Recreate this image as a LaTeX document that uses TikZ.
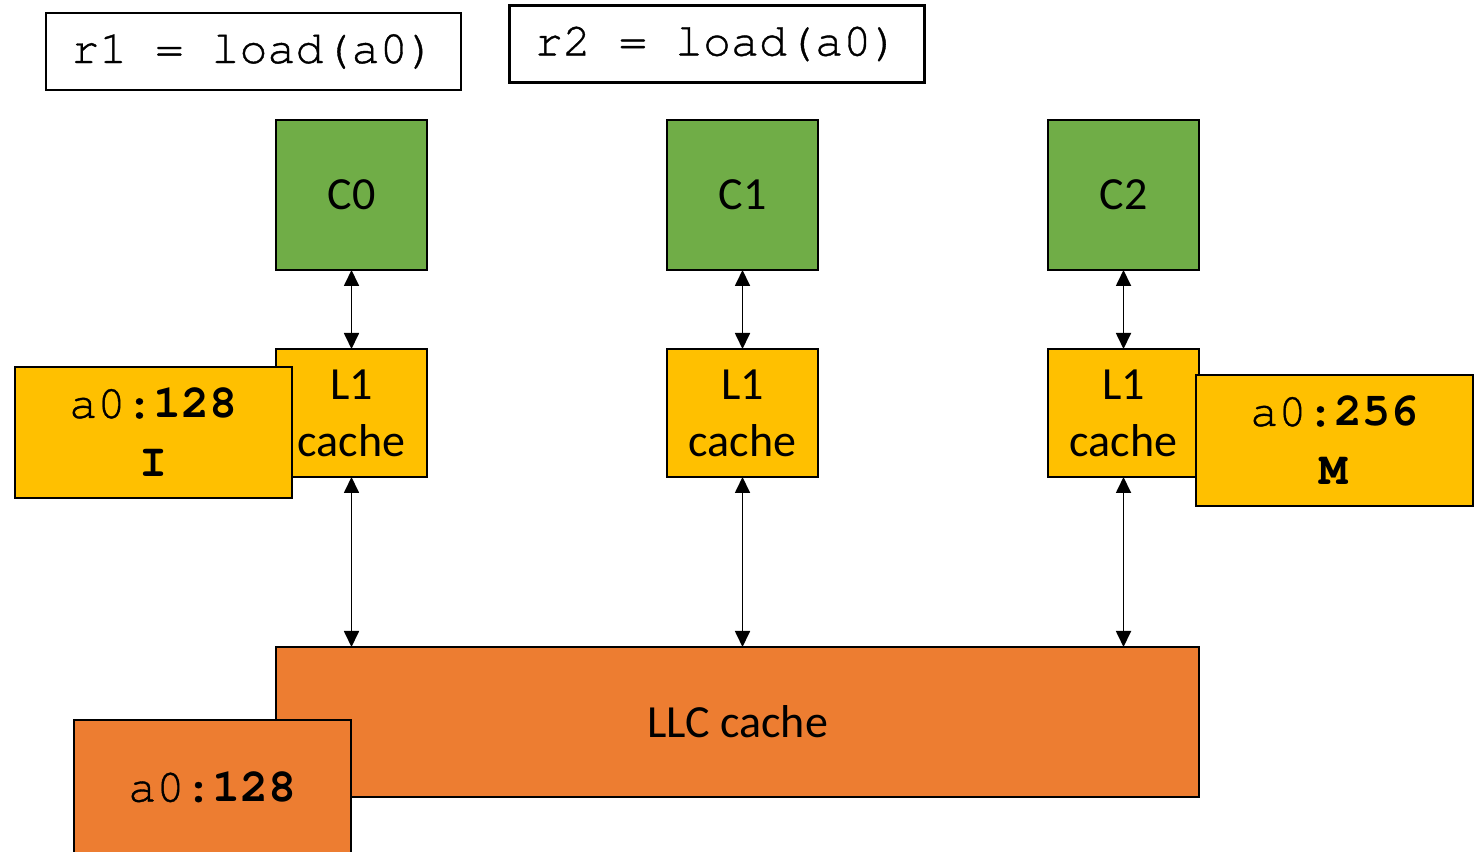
\documentclass[tikz,border=0pt]{standalone}
\usepackage{fontspec}
\setmainfont{Carlito}
\setmonofont[UprightFeatures={FakeBold=0.8}]{TeX Gyre Cursor}
\usetikzlibrary{positioning, arrows.meta, calc}

\definecolor{coregreen}{HTML}{70AD47}
\definecolor{lonegold}{HTML}{FFC000}
\definecolor{llcorange}{HTML}{ED7D31}

\tikzset{
  box/.style={draw, line width=0.8pt, inner sep=0pt, outer sep=0pt, align=center,
    font=\fontsize{13.1pt}{16.2pt}\selectfont},
  core/.style={box, fill=coregreen, minimum width=1.51cm, minimum height=1.5cm},
  lone/.style={box, fill=lonegold, minimum width=1.51cm, minimum height=1.28cm},
  line/.style={box, minimum width=2.77cm, minimum height=1.31cm,
    font=\ttfamily\fontsize{13.3pt}{16.8pt}\selectfont},
  instr/.style={box, fill=white, minimum width=4.15cm, minimum height=0.77cm,
    font=\ttfamily\fontsize{13.3pt}{16pt}\selectfont},
  link/.style={<->, >={Triangle[length=0.16cm, width=0.15cm]}, line width=0.5pt}
}

\begin{document}
\begin{tikzpicture}
  \useasboundingbox (0,0) rectangle (14.78,-8.52);
  \clip (0,0) rectangle (14.78,-8.52);

  % instructions
  \node[instr] (r1) at (2.535,-0.515) {r1 = load(a0)};
  \node[instr] (r2) at (7.17,-0.44) {r2 = load(a0)};

  % cores and private caches
  \node[core] (c0) at (3.515,-1.95) {C0};
  \node[core, right=2.4cm of c0] (c1) {C1};
  \node[core, right=2.3cm of c1] (c2) {C2};
  \node[lone, below=0.79cm of c0] (l1a) {L1\\cache};
  \node[lone, below=0.79cm of c1] (l1b) {L1\\cache};
  \node[lone, below=0.79cm of c2] (l1c) {L1\\cache};

  % cache lines held in L1
  \node[line, fill=lonegold] (la) at (1.535,-4.325) {a0:\textbf{128}\\\textbf{I}};
  \node[line, fill=lonegold] (lc) at (13.345,-4.405) {a0:\textbf{256}\\\textbf{M}};

  % shared cache
  \node[box, fill=llcorange, minimum width=9.23cm, minimum height=1.5cm,
    below=1.7cm of l1a.south west, anchor=north west] (llc) {LLC cache};
  \node[line, fill=llcorange, minimum height=1.34cm] (ll) at (2.125,-7.87) {a0:\textbf{128}};

  \foreach \c/\l in {c0/l1a, c1/l1b, c2/l1c} {
    \draw[link] (\c.south) -- (\l.north);
    \draw[link] (\l.south) -- (\l.south |- llc.north);
  }
\end{tikzpicture}
\end{document}
